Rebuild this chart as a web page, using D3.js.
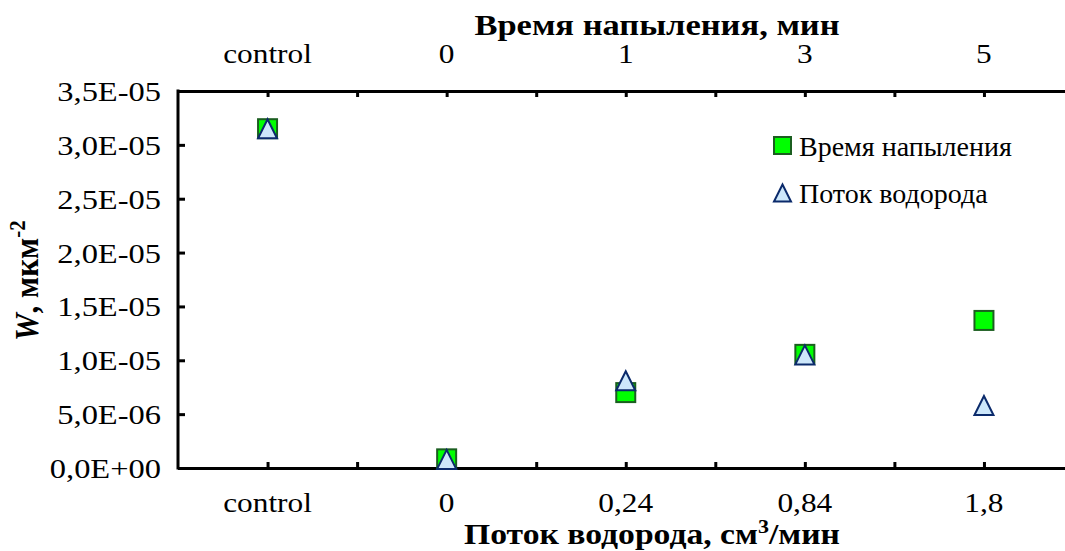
<!DOCTYPE html>
<html><head><meta charset="utf-8">
<script src="https://cdn.jsdelivr.net/npm/d3@7"></script>
<style>html,body{margin:0;padding:0;background:#fff;}svg{display:block;}</style>
</head><body>
<script>
const positions = [1, 2, 3, 4, 5];
const topLabels = ["control", "0", "1", "3", "5"];
const bottomLabels = ["control", "0", "0,24", "0,84", "1,8"];
const timeValues = [3.15e-5, 8.5e-7, 7.0e-6, 1.055e-5, 1.37e-5];
const flowValues = [3.15e-5, 8.0e-7, 8.1e-6, 1.05e-5, 5.8e-6];
const yTicks = [0, 5e-6, 1e-5, 1.5e-5, 2e-5, 2.5e-5, 3e-5, 3.5e-5];
const xTicks = [1, 1.5, 2, 2.5, 3, 3.5, 4, 4.5, 5];
const seriesNames = ["Время напыления", "Поток водорода"];

const W = 1065, H = 551;
const FONT = '"Liberation Serif", "Times New Roman", serif';
const svg = d3.select("body").append("svg").attr("width", W).attr("height", H);

const x = d3.scaleLinear().domain([0.5, 5.5]).range([178, 1073.5]);
const y = d3.scaleLinear().domain([0, 3.5e-5]).range([468, 91]);

function fmt(v) {
  if (v === 0) return "0,0E+00";
  let s = v.toExponential(1);
  let [m, e] = s.split("e");
  let sign = e[0] === "-" ? "-" : "+";
  let ex = Math.abs(parseInt(e)).toString().padStart(2, "0");
  return m.replace(".", ",") + "E" + sign + ex;
}
function txt(parent, tx, ty, anchor, opts = {}) {
  const sx = opts.sx || 1.12;
  const t = parent.append("text")
    .attr("transform", `translate(${tx},${ty})` + (opts.rot ? ` rotate(${opts.rot}) scale(1,${sx})` : ` scale(${sx},1)`))
    .attr("text-anchor", anchor)
    .style("font-family", FONT)
    .style("font-size", (opts.size || 28) + "px")
    .style("font-weight", opts.bold ? "bold" : "normal")
    .attr("fill", "#000");
  return t;
}

const gLeft = svg.append("g").attr("transform", "translate(178,0)")
  .call(d3.axisLeft(y).tickValues(yTicks).tickSizeInner(-7).tickSizeOuter(0).tickFormat(""));
const gBottom = svg.append("g").attr("transform", "translate(0,468)")
  .call(d3.axisBottom(x).tickValues(xTicks).tickSizeInner(-6).tickSizeOuter(0).tickFormat(""));
const gTop = svg.append("g").attr("transform", "translate(0,91)")
  .call(d3.axisTop(x).tickValues(xTicks).tickSizeInner(-6).tickSizeOuter(0).tickFormat(""));
[gLeft, gBottom, gTop].forEach(g => {
  g.select(".domain").attr("stroke", "#000").attr("stroke-width", 3);
  g.selectAll(".tick line").attr("stroke", "#000").attr("stroke-width", 3);
});
gLeft.select(".domain").attr("d", `M0,${y(0)+1.5}V${y(3.5e-5)-1.5}`);

const gy = svg.append("g");
yTicks.forEach(v => txt(gy, 161, y(v) + 10, "end", {sx: 1.16}).text(fmt(v)));

const gb = svg.append("g");
positions.forEach((p, i) => txt(gb, x(p), 512, "middle").text(bottomLabels[i]));
const gt = svg.append("g");
positions.forEach((p, i) => txt(gt, x(p), 63, "middle").text(topLabels[i]));

txt(svg, 657, 35, "middle", {bold: true, size: 30, sx: 1.15}).text("Время напыления, мин");
const bt = txt(svg, 652, 544, "middle", {bold: true, size: 29, sx: 1.16});
bt.append("tspan").text("Поток водорода, см");
bt.append("tspan").attr("dy", -11).style("font-size", "19px").text("3");
bt.append("tspan").attr("dy", 11).text("/мин");

const yl = txt(svg, 38, 341, "start", {bold: true, rot: -90, size: 31, sx: 1.1});
yl.append("tspan").style("font-style", "italic").text("W");
yl.append("tspan").text(", мкм");
yl.append("tspan").attr("dy", -12).style("font-size", "21px").text("-2");

const sq = 19;
function triPath(cx, cy, s) {
  return `M${cx},${cy - s/2}L${cx + s/2},${cy + s/2}L${cx - s/2},${cy + s/2}Z`;
}
svg.append("g").selectAll("rect").data(positions).join("rect")
  .attr("x", d => x(d) - sq/2).attr("y", (d, i) => y(timeValues[i]) - sq/2)
  .attr("width", sq).attr("height", sq)
  .attr("fill", "#00ff00").attr("stroke", "#1b5e20").attr("stroke-width", 2);
svg.append("g").selectAll("path").data(positions).join("path")
  .attr("d", (d, i) => triPath(x(d), y(flowValues[i]), 19))
  .attr("fill", "#cde7fa").attr("stroke", "#0b2a6b").attr("stroke-width", 2);

const lg = svg.append("g");
lg.append("rect").attr("x", 774).attr("y", 137).attr("width", 17).attr("height", 17)
  .attr("fill", "#00ff00").attr("stroke", "#1b5e20").attr("stroke-width", 2);
lg.append("path").attr("d", triPath(782.5, 193, 17))
  .attr("fill", "#cde7fa").attr("stroke", "#0b2a6b").attr("stroke-width", 2);
txt(lg, 799, 156, "start", {sx: 1.0}).text(seriesNames[0]);
txt(lg, 799, 203, "start", {sx: 1.0}).text(seriesNames[1]);
</script>
</body></html>
